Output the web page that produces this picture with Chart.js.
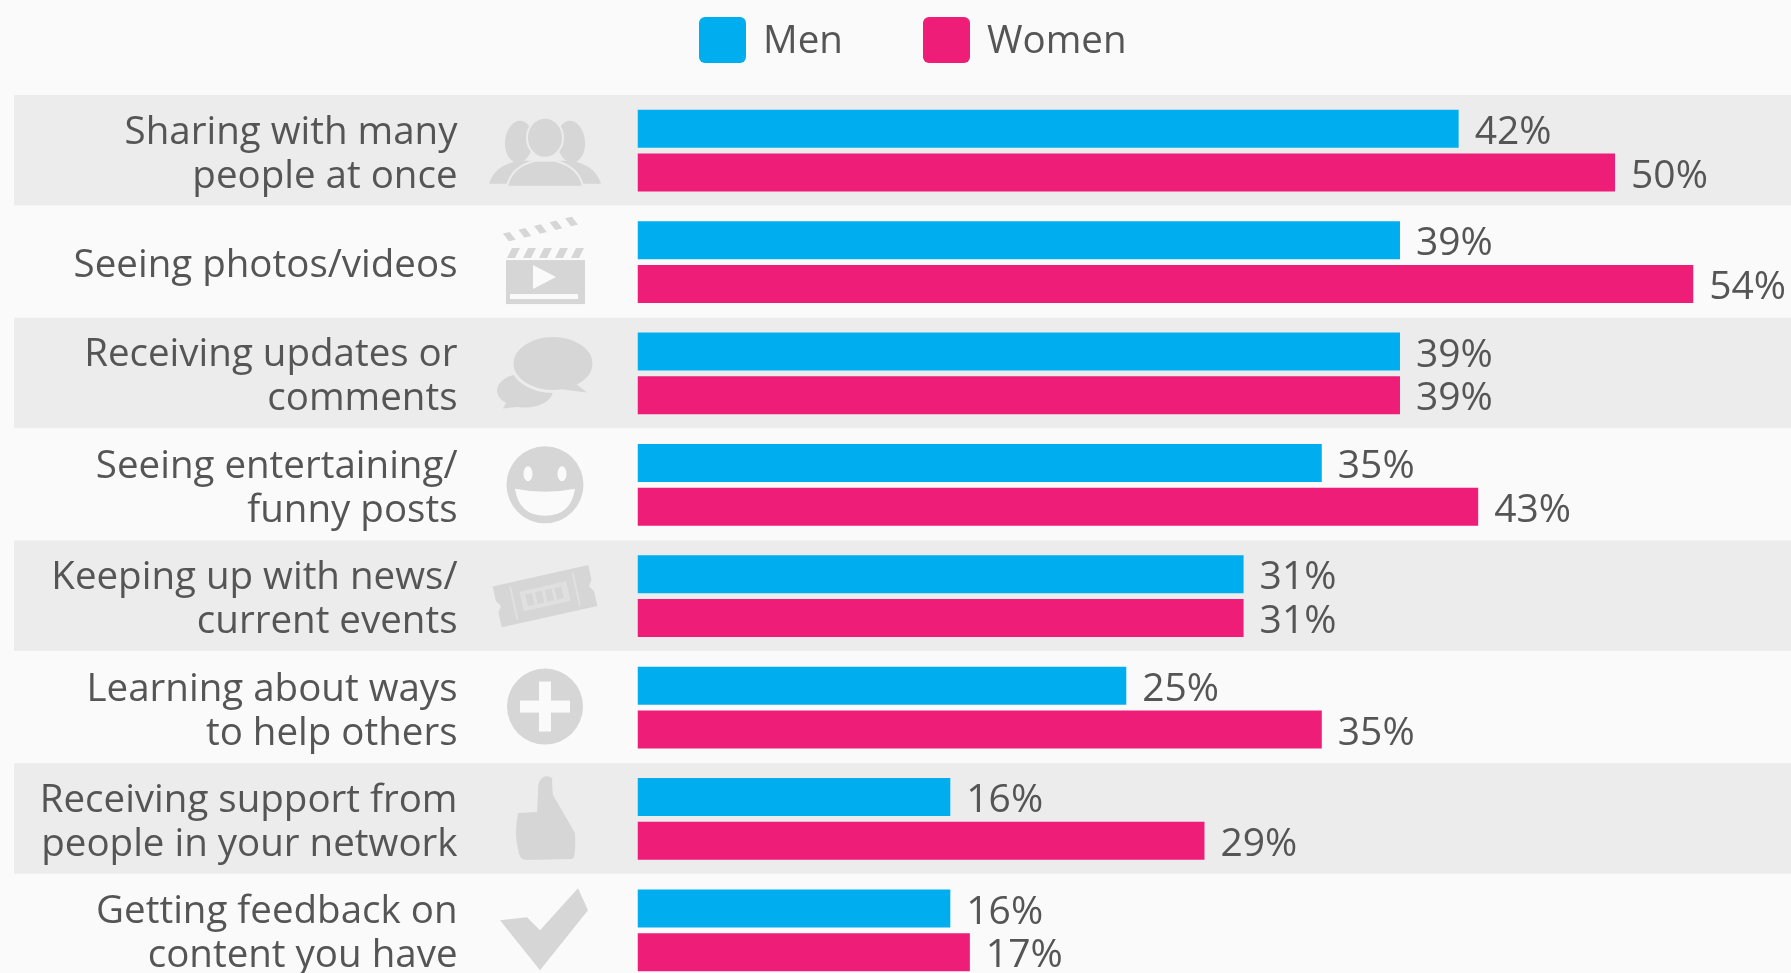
<!DOCTYPE html>
<html>
<head>
<meta charset="utf-8">
<script src="https://cdn.jsdelivr.net/npm/chart.js@4"></script>
<style>
  html, body { margin: 0; width: 1791px; height: 973px; overflow: hidden; background: #fafafa; }
  #wrap { position: relative; width: 1791px; height: 986px; }
  #legend { position: absolute; left: 0; top: 0; font: 38.5px "Open Sans"; color: #555; }
  #legend span { position: absolute; white-space: nowrap; }
  #legend i { position: absolute; top: 17px; width: 47px; height: 46px; border-radius: 6px; }
</style>
</head>
<body>
<div id="wrap">
  <canvas id="chart" width="1791" height="986"></canvas>
  <div id="legend"></div>
</div>
<script>
const categories = [
  ['Sharing with many', 'people at once'],
  'Seeing photos/videos',
  ['Receiving updates or', 'comments'],
  ['Seeing entertaining/', 'funny posts'],
  ['Keeping up with news/', 'current events'],
  ['Learning about ways', 'to help others'],
  ['Receiving support from', 'people in your network'],
  ['Getting feedback on', 'content you have']
];
const menValues = [42, 39, 39, 35, 31, 25, 16, 16];
const womenValues = [50, 54, 39, 43, 31, 35, 29, 17];
const iconColor = '#d6d6d6';
const bgColor = '#fafafa';
const bandColor = '#ececec';

const poly = (c, pts) => {
  c.beginPath();
  pts.forEach((p, i) => (i ? c.lineTo(p[0], p[1]) : c.moveTo(p[0], p[1])));
  c.closePath();
  c.fill();
};

// one drawing per row, in a box centred on 0,0
const icons = [
  (c) => { // people
    c.strokeStyle = bandColor; c.lineWidth = 2;
    c.beginPath(); c.ellipse(-26, -9, 14, 21, 0.1, 0, 7); c.ellipse(26, -9, 14, 21, -0.1, 0, 7); c.fill();
    c.beginPath(); c.moveTo(-56, 33); c.quadraticCurveTo(-50, 14, -26, 10); c.lineTo(26, 10); c.quadraticCurveTo(50, 14, 56, 33); c.closePath(); c.fill();
    c.beginPath(); c.ellipse(0, -13, 18, 20, 0, 0, 7); c.fill(); c.stroke();
    c.beginPath(); c.moveTo(-38, 36); c.quadraticCurveTo(-34, 16, -10, 10); c.lineTo(10, 10); c.quadraticCurveTo(34, 16, 38, 36); c.closePath(); c.fill(); c.stroke();
  },
  (c) => { // clapperboard
    c.fillRect(-39, -2, 79, 44);
    for (let i = 0; i < 5; i++) {
      const x = -38 + i * 16;
      poly(c, [[x, -4], [x + 8, -4], [x + 13, -14], [x + 5, -14]]);
    }
    c.save();
    c.translate(-39, -20);
    c.rotate(-0.24);
    for (let i = 0; i < 5; i++) poly(c, [[i * 16 + 3, 0], [i * 16 + 10, 0], [i * 16 + 6, -9], [i * 16 - 1, -9]]);
    c.restore();
    c.fillStyle = bgColor;
    poly(c, [[-12, 3], [11, 15], [-12, 27]]);
    c.fillRect(-35, 32, 68, 5);
  },
  (c) => { // speech bubbles
    c.strokeStyle = bandColor; c.lineWidth = 3;
    c.beginPath(); c.ellipse(-20, 17, 28, 17, 0, 0, 7); c.fill();
    poly(c, [[-36, 24], [-42, 35], [-16, 32]]);
    c.beginPath(); c.ellipse(8, -10, 41, 28, 0, 0, 7); c.fill(); c.stroke();
    poly(c, [[28, 8], [42, 19], [18, 16]]);
  },
  (c) => { // smile
    c.beginPath(); c.arc(0, 0, 38.5, 0, 7); c.fill();
    c.fillStyle = bgColor;
    c.beginPath(); c.ellipse(-17, -11, 4.5, 7.5, 0, 0, 7); c.ellipse(17, -11, 4.5, 7.5, 0, 0, 7); c.fill();
    c.beginPath(); c.moveTo(-30, 4); c.quadraticCurveTo(0, 10, 30, 4); c.quadraticCurveTo(26, 31, 0, 31); c.quadraticCurveTo(-26, 31, -30, 4); c.fill();
  },
  (c) => { // ticket
    c.rotate(-0.22);
    poly(c, [[-49, -21], [49, -21], [49, -6], [45, 0], [49, 6], [49, 21], [-49, 21], [-49, 6], [-45, 0], [-49, -6]]);
    c.fillStyle = '#e0e0e0';
    c.fillRect(-24, -10, 48, 20);
    c.fillStyle = iconColor;
    for (let i = 0; i < 4; i++) c.fillRect(-19 + i * 10, -6, 7, 12);
    c.fillStyle = '#e0e0e0';
    c.fillRect(-33, -17, 2, 34);
    c.fillRect(31, -17, 2, 34);
  },
  (c) => { // plus
    c.beginPath(); c.arc(0, -1, 38, 0, 7); c.fill();
    c.fillStyle = bgColor;
    c.fillRect(-25, -7, 50, 12);
    c.fillRect(-6, -26, 12, 50);
  },
  (c) => { // thumb up
    c.beginPath();
    c.moveTo(2, -43); c.quadraticCurveTo(-8, -42, -7, -26); c.lineTo(-8, -7); c.lineTo(-27, -6);
    c.quadraticCurveTo(-31, 15, -27, 30); c.quadraticCurveTo(-26, 40, -20, 41); c.lineTo(27, 40);
    c.quadraticCurveTo(31, 40, 30, 14); c.lineTo(8, -24); c.quadraticCurveTo(7, -36, 7, -41);
    c.closePath(); c.fill();
  },
  (c) => { // check
    poly(c, [[-45, -10], [-18, -13], [-5, 0], [33, -42], [43, -20], [-5, 40]]);
  }
];

// alternating grey rows and the icons go under the axis labels and bars
const rowBands = {
  id: 'rowBands',
  beforeDraw(chart) {
    const { ctx, scales: { y }, chartArea } = chart;
    const rowH = y.getPixelForValue(1) - y.getPixelForValue(0);
    ctx.save();
    categories.forEach((cat, i) => {
      const mid = y.getPixelForValue(i);
      if (i % 2 === 0) {
        ctx.fillStyle = bandColor;
        ctx.fillRect(14, mid - rowH / 2, chartArea.right - 14, rowH - 1);
      }
      ctx.save();
      ctx.translate(545, mid);
      ctx.fillStyle = iconColor;
      icons[i](ctx);
      ctx.restore();
    });
    ctx.restore();
    // category labels sit a little below the row centre
    y.getLabelItems(chartArea).forEach((item) => { item.textOffset += 4; });
  }
};

const valueLabels = {
  id: 'valueLabels',
  afterDatasetsDraw(chart) {
    const { ctx } = chart;
    ctx.save();
    ctx.font = '39px "Open Sans"';
    ctx.fillStyle = '#555';
    ctx.textBaseline = 'middle';
    chart.data.datasets.forEach((ds, d) => {
      chart.getDatasetMeta(d).data.forEach((bar, i) => {
        ctx.fillText(ds.data[i] + '%', bar.x + 16, bar.y + 4);
      });
    });
    ctx.restore();
  }
};

const chart = new Chart(document.getElementById('chart').getContext('2d'), {
  type: 'bar',
  data: {
    labels: categories,
    datasets: [
      { label: 'Men', data: menValues, backgroundColor: '#00aeef' },
      { label: 'Women', data: womenValues, backgroundColor: '#ee1d78' }
    ]
  },
  options: {
    indexAxis: 'y',
    responsive: false,
    animation: false,
    layout: { padding: { top: 95, bottom: 0, left: 0, right: 0 } },
    categoryPercentage: 0.7846,
    barPercentage: 0.87,
    plugins: { legend: { display: false }, tooltip: { enabled: false } },
    scales: {
      x: { display: false, min: 0, max: 59 },
      y: {
        grid: { display: false, drawTicks: false },
        border: { display: false },
        afterFit(scale) {
          scale.width = 637.5;
          // tick padding would otherwise also pad the axis ends
          scale.paddingTop = 0;
          scale.paddingBottom = 0;
        },
        ticks: {
          autoSkip: false,
          crossAlign: 'near',
          padding: 180,
          color: '#555',
          font: { family: 'Open Sans', size: 38.5, lineHeight: 1.143 }
        }
      }
    }
  },
  plugins: [rowBands, valueLabels]
});

// legend is plain html above the canvas
const legendBox = document.getElementById('legend');
const legendX = [699, 923];
chart.data.datasets.forEach((ds, i) => {
  const swatch = document.createElement('i');
  swatch.style.left = legendX[i] + 'px';
  swatch.style.background = ds.backgroundColor;
  const text = document.createElement('span');
  text.textContent = ds.label;
  text.style.left = legendX[i] + 64 + 'px';
  text.style.top = '12px';
  legendBox.append(swatch, text);
});
</script>
</body>
</html>
